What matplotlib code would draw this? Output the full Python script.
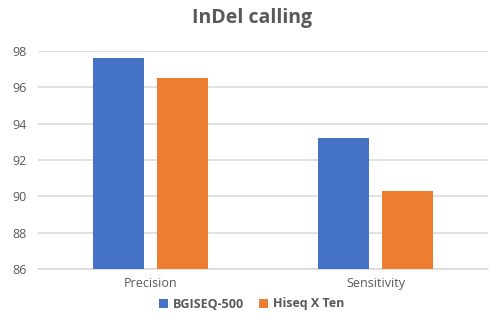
import numpy as np
import matplotlib.pyplot as plt

# InDel calling metrics per platform
categories = ['Precision', 'Sensitivity']
series_names = ['BGISEQ-500', 'Hiseq X Ten']
bgiseq_values = [97.6, 93.2]
hiseq_values = [96.5, 90.3]
y_ticks = [86, 88, 90, 92, 94, 96, 98]

plt.rcParams['font.family'] = ['Open Sans', 'DejaVu Sans']
text_color = '#595959'

fig = plt.figure(figsize=(5.04, 3.22), dpi=100)
ax = fig.add_axes([38 / 504, 1 - 269 / 322, 450 / 504, 218 / 322])

x = np.arange(len(categories))
width = 0.227
offset = 0.142
ax.bar(x - offset, bgiseq_values, width, color='#4472C4', label=series_names[0], zorder=3)
ax.bar(x + offset, hiseq_values, width, color='#ED7D31', label=series_names[1], zorder=3)

ax.set_xlim(-0.5, 1.5)
ax.set_ylim(86, 98)
ax.set_yticks(y_ticks)
ax.set_xticks(x)
ax.set_xticklabels(categories)
ax.tick_params(axis='both', length=0, colors=text_color, labelsize=9)
ax.tick_params(axis='y', pad=8)
ax.tick_params(axis='x', pad=6)
ax.grid(axis='y', color='#d9d9d9', linewidth=1.1, zorder=0)
for side in ['top', 'right', 'left']:
    ax.spines[side].set_visible(False)
ax.spines['bottom'].set_color('#d9d9d9')
ax.spines['bottom'].set_linewidth(1.1)

fig.text(0.5, 1 - 18 / 322, 'InDel calling', ha='center', va='center',
         fontsize=14, fontweight='bold', color=text_color)

leg = fig.legend(loc='center', bbox_to_anchor=(0.5, 1 - 304 / 322), ncol=2, frameon=False,
                 handlelength=0.7, handleheight=0.7, handletextpad=0.4, columnspacing=1.2,
                 prop={'size': 9, 'weight': 'bold'})
for t in leg.get_texts():
    t.set_color(text_color)

fig.savefig('out.png', dpi=100)
